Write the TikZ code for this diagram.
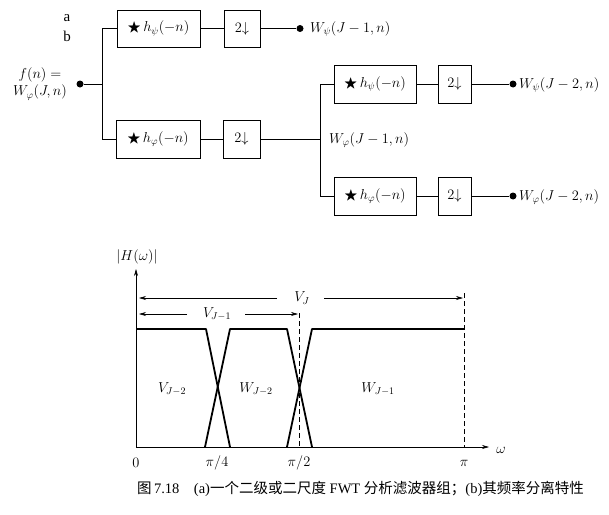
\documentclass[tikz,border=0pt]{standalone}
\usepackage{amssymb}
\usepackage{fontspec}
\setmainfont{Liberation Serif}
\newfontfamily\cjk{Noto Sans CJK SC}
\usetikzlibrary{arrows.meta}
\begin{document}
\begin{tikzpicture}[x=1pt,y=-1pt,
  fbox/.style={draw,line width=0.6pt,minimum width=83pt,minimum height=37pt,inner sep=0pt,font=\fontsize{14}{16}\selectfont},
  dbox/.style={draw,line width=0.6pt,minimum width=36pt,minimum height=37pt,inner sep=0pt,font=\fontsize{14}{16}\selectfont},
  wire/.style={line width=0.6pt},
  dotn/.style={circle,fill,inner sep=0pt,minimum size=7pt},
  lbl/.style={font=\fontsize{14}{16}\selectfont,inner sep=0pt},
  wlbl/.style={font=\fontsize{14.5}{16}\selectfont,inner sep=0pt,anchor=west},
  curve/.style={line width=1.8pt,line join=round},
  dashln/.style={line width=0.6pt,dash pattern=on 5pt off 3pt},
  harrow/.style={line width=0.6pt,-{Stealth[length=7pt,width=4pt]}}
]
\useasboundingbox (0,0) rectangle (609,514);
% labels a b
\node[font=\fontsize{15}{17}\selectfont] (la) at (67,18) {a};
\node[font=\fontsize{15}{17}\selectfont] (lb) at (67,36) {b};
% input
\node[lbl,align=center] (fin) at (40,84) {$f(n)=$\\[1pt]$W_\varphi(J,n)$};
\node[dotn] (din) at (80,84) {};
\coordinate (s) at (102,84);
\coordinate (st) at (102,28.5);
\coordinate (sb) at (102,139);
% top branch
\node[fbox] (hpsi1) at (158.5,28.5) {$\bigstar\, h_\psi(-n)$};
\node[dbox] (d1) at (242,28.5) {$2{\downarrow}$};
\node[dotn] (o1) at (300,28.5) {};
\node[wlbl] (l1) at (310,29) {$W_\psi(J-1,n)$};
% bottom branch
\node[fbox,minimum width=84pt,minimum height=38pt] (hphi1) at (158,139) {$\bigstar\, h_\varphi(-n)$};
\node[dbox,minimum width=37pt,minimum height=38pt] (d2) at (241.5,139) {$2{\downarrow}$};
\coordinate (j) at (320,139);
\coordinate (jt) at (320,84);
\coordinate (jb) at (320,196);
\node[wlbl] (lj) at (329,140) {$W_\varphi(J-1,n)$};
% second stage
\node[fbox,minimum width=82pt,minimum height=38pt] (hpsi2) at (375,84) {$\bigstar\, h_\psi(-n)$};
\node[dbox,minimum width=33pt,minimum height=38pt] (d3) at (454.5,84) {$2{\downarrow}$};
\node[dotn] (o2) at (513,84) {};
\node[wlbl] (l2) at (519,85) {$W_\psi(J-2,n)$};
\node[fbox,minimum width=82pt,minimum height=38pt] (hphi2) at (375,196) {$\bigstar\, h_\varphi(-n)$};
\node[dbox,minimum width=33pt,minimum height=38pt] (d4) at (454.5,196) {$2{\downarrow}$};
\node[dotn] (o3) at (513,196) {};
\node[wlbl] (l3) at (519,197) {$W_\varphi(J-2,n)$};
% wires
\draw[wire] (din) -- (s);
\draw[wire] (st) -- (sb);
\draw[wire] (st) -- (hpsi1.west);
\draw[wire] (sb) -- (hphi1.west);
\draw[wire] (hpsi1) -- (d1);
\draw[wire] (d1) -- (o1);
\draw[wire] (hphi1) -- (d2);
\draw[wire] (d2.east) -- (j);
\draw[wire] (jt) -- (jb);
\draw[wire] (jt) -- (hpsi2.west);
\draw[wire] (jb) -- (hphi2.west);
\draw[wire] (hpsi2) -- (d3);
\draw[wire] (d3) -- (o2);
\draw[wire] (hphi2) -- (d4);
\draw[wire] (d4) -- (o3);
% ---- plot ----
\draw[line width=0.6pt,-{Stealth[length=7pt,width=4pt]}] (136,447) -- (136,269);
\draw[line width=0.6pt,-{Stealth[length=7pt,width=4pt]}] (136,447) -- (489,447);
\node[lbl] at (137,257) {$|H(\omega)|$};
\node[lbl] at (501,450) {$\omega$};
% curves
\draw[curve] (136,329) -- (206,329) -- (230,447);
\draw[curve] (205,447) -- (230,329) -- (287,329) -- (312,447);
\draw[curve] (287,447) -- (312,329) -- (464,329);
% dashed
\draw[dashln] (299,313) -- (299,447);
\draw[dashln] (464,293) -- (464,447);
% V_J arrows
\node[lbl] (vj) at (302,298) {$V_J$};
\draw[harrow] (277,298) -- (139,298);
\draw[harrow] (324,298) -- (463,298);
\node[lbl] (vj1) at (217,314) {$V_{J-1}$};
\draw[harrow] (187,314) -- (139,314);
\draw[harrow] (245,314) -- (298,314);
% region labels
\node[lbl] at (172,389) {$V_{J-2}$};
\node[lbl] at (256,389) {$W_{J-2}$};
\node[lbl] at (378,389) {$W_{J-1}$};
% ticks
\node[lbl] at (136,463) {$0$};
\node[lbl] at (217,463) {$\pi/4$};
\node[lbl] at (299,463) {$\pi/2$};
\node[lbl] at (464,463) {$\pi$};
% caption
\node[anchor=west,inner sep=0pt,font=\fontsize{14.5}{16}\selectfont] at (137,489) {{\cjk 图}\,7.18\quad (a){\cjk 一个二级或二尺度}\ FWT\ {\cjk 分析滤波器组；}(b){\cjk 其频率分离特性}};
\end{tikzpicture}
\end{document}
